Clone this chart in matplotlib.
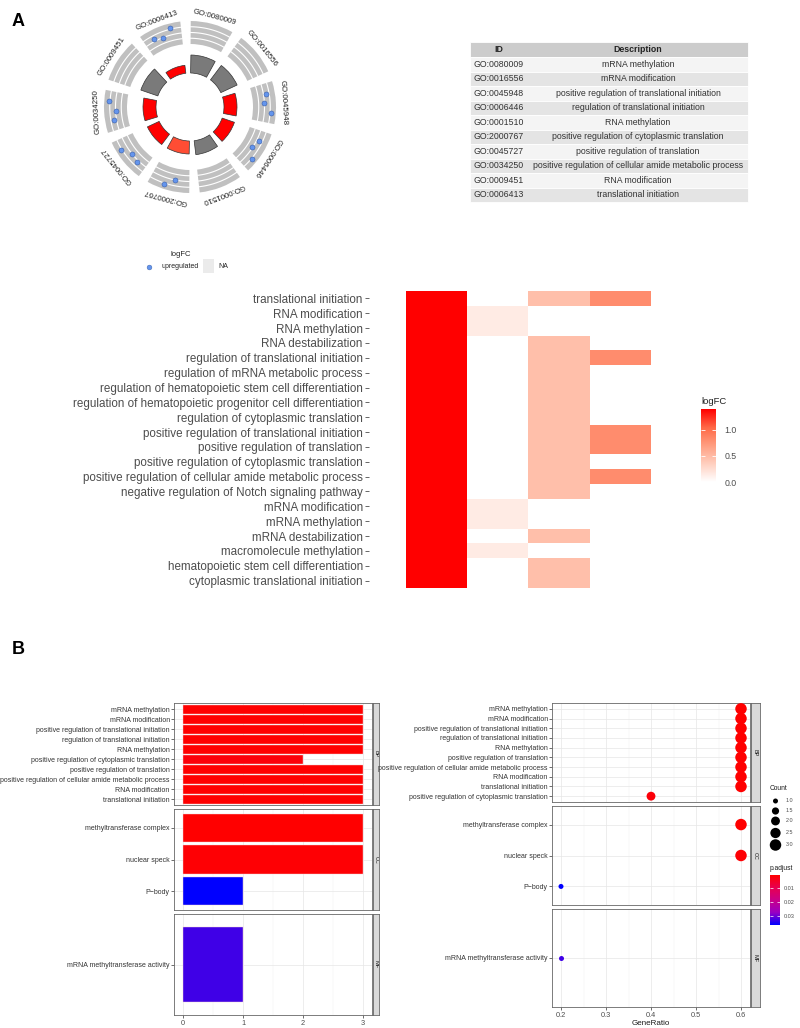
import numpy as np
import matplotlib
matplotlib.use("Agg")
import matplotlib.pyplot as plt
from matplotlib.patches import Wedge, Rectangle
from matplotlib.colors import LinearSegmentedColormap, Normalize

plt.rcParams['font.family'] = ['Liberation Sans', 'DejaVu Sans']

# ---------------- data ----------------
go_ids = ['GO:0080009', 'GO:0016556', 'GO:0045948', 'GO:0006446', 'GO:0001510',
          'GO:2000767', 'GO:0045727', 'GO:0034250', 'GO:0009451', 'GO:0006413']
go_desc = ['mRNA methylation', 'mRNA modification',
           'positive regulation of translational initiation',
           'regulation of translational initiation', 'RNA methylation',
           'positive regulation of cytoplasmic translation',
           'positive regulation of translation',
           'positive regulation of cellular amide metabolic process',
           'RNA modification', 'translational initiation']
go_bar = [18, 18, 13, 13, 14, 13, 13, 13, 18, 8]
go_z = [np.nan, np.nan, 1.73, 1.73, np.nan, 1.41, 1.73, 1.73, np.nan, 1.73]
go_gene_lfc = [[], [], [1.4, 0.47, 0.82], [1.4, 0.47, 0.82], [], [1.4, 0.47],
               [1.4, 0.47, 0.82], [1.4, 0.47, 0.82], [], [1.4, 0.47, 0.82]]

heat_terms = ['translational initiation', 'RNA modification', 'RNA methylation',
              'RNA destabilization', 'regulation of translational initiation',
              'regulation of mRNA metabolic process',
              'regulation of hematopoietic stem cell differentiation',
              'regulation of hematopoietic progenitor cell differentiation',
              'regulation of cytoplasmic translation',
              'positive regulation of translational initiation',
              'positive regulation of translation',
              'positive regulation of cytoplasmic translation',
              'positive regulation of cellular amide metabolic process',
              'negative regulation of Notch signaling pathway',
              'mRNA modification', 'mRNA methylation', 'mRNA destabilization',
              'macromolecule methylation', 'hematopoietic stem cell differentiation',
              'cytoplasmic translational initiation']
gene1 = [1.4] * 20
gene2 = [0, .15, .15, 0, 0, 0, 0, 0, 0, 0, 0, 0, 0, 0, .15, .15, 0, .15, 0, 0]
gene3 = [.47, 0, 0, .47, .47, .47, .47, .47, .47, .47, .47, .47, .47, .47, 0, 0, .47, 0, .47, .47]
gene4 = [.82, 0, 0, 0, .82, 0, 0, 0, 0, .82, .82, 0, .82, 0, 0, 0, 0, 0, 0, 0]

# Panel B: bar chart
bar_bp = ['mRNA methylation', 'mRNA modification',
          'positive regulation of translational initiation',
          'regulation of translational initiation', 'RNA methylation',
          'positive regulation of cytoplasmic translation',
          'positive regulation of translation',
          'positive regulation of cellular amide metabolic process',
          'RNA modification', 'translational initiation']
bar_bp_count = [3, 3, 3, 3, 3, 2, 3, 3, 3, 3]
bar_bp_p = [0.0006, 0.0006, 0.0006, 0.0006, 0.0006, 0.0016, 0.0006, 0.0006, 0.0006, 0.0006]
cc_terms = ['methyltransferase complex', 'nuclear speck', 'P\u2212body']
cc_count = [3, 3, 1]
cc_p = [0.0006, 0.0011, 0.0367]
mf_terms = ['mRNA methyltransferase activity']
mf_count = [1]
mf_p = [0.0330]

# Panel B: dot chart
dot_bp = ['mRNA methylation', 'mRNA modification',
          'positive regulation of translational initiation',
          'regulation of translational initiation', 'RNA methylation',
          'positive regulation of translation',
          'positive regulation of cellular amide metabolic process',
          'RNA modification', 'translational initiation',
          'positive regulation of cytoplasmic translation']
dot_bp_ratio = [0.6, 0.6, 0.6, 0.6, 0.6, 0.6, 0.6, 0.6, 0.6, 0.4]
dot_bp_count = [3, 3, 3, 3, 3, 3, 3, 3, 3, 2]
dot_bp_p = [0.0006, 0.0006, 0.0006, 0.0006, 0.0006, 0.0006, 0.0006, 0.0006, 0.0006, 0.0016]
cc_ratio = [0.6, 0.6, 0.2]
mf_ratio = [0.2]
facet_names = ['BP', 'CC', 'MF']

# ---------------- figure ----------------
W, H = 800, 1028
fig = plt.figure(figsize=(8, 10.28), dpi=100)


def pax(x0, y0, x1, y1):
    return fig.add_axes([x0 / W, 1 - y1 / H, (x1 - x0) / W, (y1 - y0) / H])


heat_cmap = LinearSegmentedColormap.from_list(
    'wr', ['#FFFFFF', '#FFCFBF', '#FF9E81', '#FF6846', '#FF0000'])
p_cmap = LinearSegmentedColormap.from_list(
    'rb', ['#FF0000', '#E80050', '#CA0088', '#9A00C3', '#0000FF'])
p_norm = Normalize(0.0006, 0.0367)

# ---------------- GO circle ----------------
axc = pax(80, 0, 300, 216)
axc.set_xlim(-110, 110)
axc.set_ylim(-109, 107)
axc.axis('off')
r_in, lfc_lo, lfc_hi = 63, -1.0, 2.0
r_out = 86
z_norm = Normalize(0, 1.73)
for i, gid in enumerate(go_ids):
    c = 75 - 36 * i
    axc.add_patch(Wedge((0, 0), r_out, c - 14.5, c + 14.5, width=r_out - r_in,
                        facecolor='#c0c0c0', edgecolor='none'))
    th = np.radians(np.linspace(c - 14.5, c + 14.5, 40))
    for rr in np.linspace(r_in, r_out, 5)[1:-1]:
        axc.plot(rr * np.cos(th), rr * np.sin(th), color='white', lw=0.8)
    z = go_z[i]
    col = '#7a7a7a' if np.isnan(z) else heat_cmap(z_norm(z))
    axc.add_patch(Wedge((0, 0), 34 + go_bar[i], c - 14, c + 14, width=go_bar[i],
                        facecolor=col, edgecolor='#333333', lw=0.5))
    genes = go_gene_lfc[i]
    n = len(genes)
    for j, v in enumerate(genes):
        a = np.radians(c + 7 * (j - (n - 1) / 2))
        rr = r_in + (v - lfc_lo) / (lfc_hi - lfc_lo) * (r_out - r_in)
        axc.scatter(rr * np.cos(a), rr * np.sin(a), s=13, color='#6495ED',
                    edgecolor='#3a5fa8', linewidth=0.4, zorder=5)
    a = np.radians(c)
    axc.text(93 * np.cos(a), 93 * np.sin(a), gid, rotation=c - 90,
             rotation_mode='anchor', ha='center', va='center', fontsize=5.7, color='#222222')

# ---------------- heatmap ----------------
axh = pax(369, 291, 651, 588)
mat = np.array([gene1, gene2, gene3, gene4]).T
axh.pcolormesh(np.arange(5), np.arange(21), mat, cmap=heat_cmap, vmin=0, vmax=1.4)
axh.set_ylim(20, 0)
axh.set_xlim(-0.6, 4)
axh.set_yticks(np.arange(20) + 0.5)
axh.set_yticklabels(heat_terms, fontsize=8.4, color='#4d4d4d')
axh.set_xticks([])
axh.tick_params(axis='y', length=3, width=0.6, color='#4d4d4d', pad=1.5)
for s in axh.spines.values():
    s.set_visible(False)

axcb = pax(701, 409, 716, 482)
grad = np.linspace(0, 1.4, 200).reshape(-1, 1)
axcb.imshow(grad, cmap=heat_cmap, vmin=0, vmax=1.4, aspect='auto',
            extent=[0, 1, 0, 1.4], origin='lower')
axcb.set_xlim(0, 1)
axcb.set_ylim(0, 1.4)
axcb.set_xticks([])
axcb.set_yticks([0, 0.5, 1.0])
axcb.set_yticklabels(['0.0', '0.5', '1.0'], fontsize=6.3, color='#4d4d4d')
axcb.yaxis.tick_right()
axcb.tick_params(axis='y', direction='in', length=3, color='white', width=0.6,
                 left=True, right=True, pad=6)
for s in axcb.spines.values():
    s.set_visible(False)


# ---------------- Panel B ----------------
def style_facet(ax, cats, xlim, xmajor, xminor, show_x, xfmt):
    n = len(cats)
    ax.set_ylim(n - 1 + 0.6, -0.6)
    ax.set_yticks(np.arange(n))
    ax.set_yticklabels(cats, fontsize=5.0, color='#333333')
    ax.set_xlim(*xlim)
    ax.set_xticks(xmajor)
    ax.set_xticks(xminor, minor=True)
    ax.grid(which='major', color='#e6e6e6', lw=0.5)
    ax.grid(which='minor', axis='x', color='#f0f0f0', lw=0.3)
    ax.set_axisbelow(True)
    ax.tick_params(axis='y', length=2, width=0.5, color='#333333', pad=1)
    ax.tick_params(axis='x', which='minor', length=0)
    if show_x:
        ax.set_xticklabels([xfmt(v) for v in xmajor], fontsize=5.3, color='#4d4d4d')
        ax.tick_params(axis='x', which='major', length=2, width=0.5, color='#333333', pad=1.5)
    else:
        ax.set_xticklabels([])
        ax.tick_params(axis='x', which='major', length=0)
    for s in ax.spines.values():
        s.set_color('#666666')
        s.set_linewidth(0.6)


def strip(box, name, fs):
    sa = pax(*box)
    sa.set_facecolor('#d9d9d9')
    sa.set_xticks([])
    sa.set_yticks([])
    for s in sa.spines.values():
        s.set_color('#666666')
        s.set_linewidth(0.6)
    sa.text(0.5, 0.5, name, rotation=-90, ha='center', va='center', fontsize=fs,
            color='#1a1a1a', transform=sa.transAxes, clip_on=True)


left_boxes = [(174, 703, 372, 805), (174, 809, 372, 910), (174, 914, 372, 1015)]
right_boxes = [(552, 703, 750, 802), (552, 806, 750, 905), (552, 909, 750, 1007)]
bar_sets = [(bar_bp, bar_bp_count, bar_bp_p), (cc_terms, cc_count, cc_p), (mf_terms, mf_count, mf_p)]
dot_sets = [(dot_bp, dot_bp_ratio, dot_bp_count, dot_bp_p), (cc_terms, cc_ratio, cc_count, cc_p),
            (mf_terms, mf_ratio, mf_count, mf_p)]


def dot_area(c):
    d = np.sqrt(25 + 53.5 * (np.asarray(c, float) - 1))
    return (d * 0.72) ** 2


for k in range(3):
    cats, cnt, pv = bar_sets[k]
    ax = pax(*left_boxes[k])
    ax.barh(np.arange(len(cats)), cnt, height=0.9, color=p_cmap(p_norm(np.array(pv))),
            edgecolor='#f4d0d0', linewidth=0.3)
    style_facet(ax, cats, (-0.15, 3.15), [0, 1, 2, 3], [0.5, 1.5, 2.5], k == 2,
                lambda v: f'{v:g}')
    x0, y0, x1, y1 = left_boxes[k]
    strip((373, y0, 379, y1), facet_names[k], 4)

    cats, ratio, cnt, pv = dot_sets[k]
    ax = pax(*right_boxes[k])
    ax.scatter(ratio, np.arange(len(cats)), s=dot_area(cnt), c=p_cmap(p_norm(np.array(pv))),
               linewidths=0, zorder=3)
    style_facet(ax, cats, (0.18, 0.62), [0.2, 0.3, 0.4, 0.5, 0.6],
                [0.25, 0.35, 0.45, 0.55], k == 2, lambda v: f'{v:.1f}')
    if k == 2:
        ax.set_xlabel('GeneRatio', fontsize=5.8, color='#1a1a1a', labelpad=1)
    x0, y0, x1, y1 = right_boxes[k]
    strip((751, y0, 760, y1), facet_names[k], 4)

# p.adjust colorbar
axpc = pax(770, 875, 780, 925)
g2 = np.linspace(0.0006, 0.0367, 200).reshape(-1, 1)
axpc.imshow(g2, cmap=p_cmap, norm=p_norm, aspect='auto', extent=[0, 1, 0.0367, 0.0006])
axpc.set_ylim(0.0367, 0.0006)
axpc.set_xticks([])
axpc.set_yticks([0.01, 0.02, 0.03])
axpc.set_yticklabels(['0.01', '0.02', '0.03'], fontsize=4, color='#4d4d4d')
axpc.yaxis.tick_right()
axpc.tick_params(axis='y', direction='in', length=2, color='white', width=0.5,
                 left=True, right=True, pad=3)
for s in axpc.spines.values():
    s.set_visible(False)

# ---------------- overlay: labels, table, legends ----------------
ov = fig.add_axes([0, 0, 1, 1])
ov.set_xlim(0, W)
ov.set_ylim(H, 0)
ov.axis('off')
ov.patch.set_visible(False)

ov.text(12, 21, 'A', fontsize=13, fontweight='bold', va='center', ha='left')
ov.text(12, 649, 'B', fontsize=13, fontweight='bold', va='center', ha='left')

# table
tx0, txm, tx1 = 470, 528, 748
ty0, hh, rh = 42, 15, 14.5
ov.add_patch(Rectangle((tx0, ty0), tx1 - tx0, hh, facecolor='#cccccc', edgecolor='white', lw=0.6))
ov.text(tx0 + (txm - tx0) / 2, ty0 + hh / 2, 'ID', fontsize=6.3, fontweight='bold',
        ha='center', va='center', color='#222222')
ov.text((txm + tx1) / 2, ty0 + hh / 2, 'Description', fontsize=6.3, fontweight='bold',
        ha='center', va='center', color='#222222')
for i, (gid, desc) in enumerate(zip(go_ids, go_desc)):
    yy = ty0 + hh + i * rh
    ov.add_patch(Rectangle((tx0, yy), tx1 - tx0, rh,
                           facecolor='#f4f4f4' if i % 2 == 0 else '#e4e4e4',
                           edgecolor='white', lw=0.6))
    ov.text(tx0 + 3, yy + rh / 2, gid, fontsize=6.3, ha='left', va='center', color='#333333')
    ov.text((txm + tx1) / 2, yy + rh / 2, desc, fontsize=6.3, ha='center', va='center',
            color='#333333')

# circle legend
ov.text(181, 254, 'logFC', fontsize=5.5, ha='center', va='center', color='#222222')
ov.scatter([149], [266.5], s=12, color='#6495ED', edgecolor='#3a5fa8', linewidth=0.3)
ov.text(161, 266.5, 'upregulated', fontsize=5.0, ha='left', va='center', color='#222222')
ov.add_patch(Rectangle((203, 259), 11, 14, facecolor='#ebebeb', edgecolor='none'))
ov.text(218, 266.5, 'NA', fontsize=5.0, ha='left', va='center', color='#222222')

# heatmap colorbar title
ov.text(701, 401, 'logFC', fontsize=6.8, ha='left', va='center', color='#222222')

# Count legend
ov.text(770, 789, 'Count', fontsize=4.8, ha='left', va='center', color='#1a1a1a')
cnt_levels = [1.0, 1.5, 2.0, 2.5, 3.0]
cnt_y = [801, 811, 821, 833, 845]
ov.scatter([775.5] * 5, cnt_y, s=dot_area(cnt_levels), color='black', linewidths=0)
for v, yv in zip(cnt_levels, cnt_y):
    ov.text(786, yv, f'{v:.1f}', fontsize=3.9, ha='left', va='center', color='#4d4d4d')
ov.text(770, 868, 'p.adjust', fontsize=4.8, ha='left', va='center', color='#1a1a1a')

fig.savefig('out.png', dpi=100)
